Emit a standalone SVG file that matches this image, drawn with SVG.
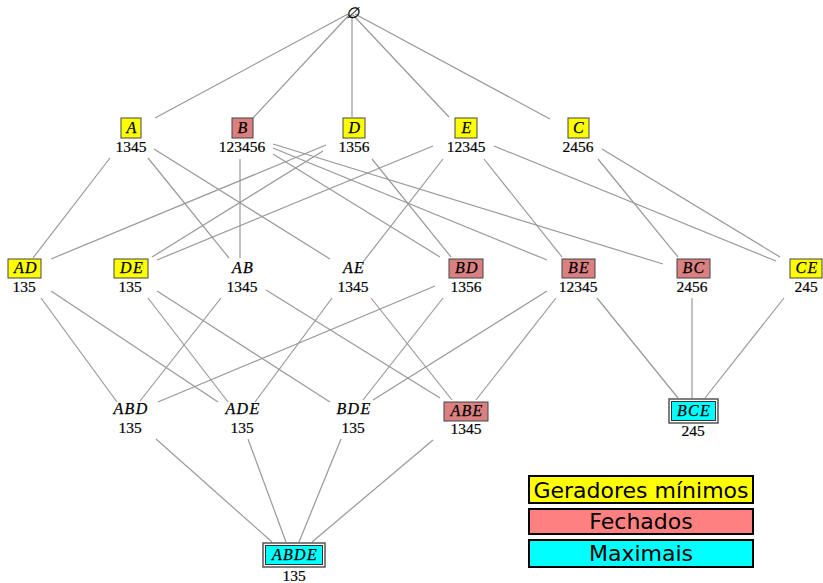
<svg xmlns="http://www.w3.org/2000/svg" width="823" height="583" viewBox="0 0 823 583">
<style>
.e line{stroke:#999;stroke-width:1.2}
.lb{font-family:"Liberation Serif",serif;font-style:italic;font-size:16px;letter-spacing:1.3px;text-anchor:middle;fill:#000;stroke:#000;stroke-width:0.25}
.nm{font-family:"Liberation Serif",serif;font-size:15.5px;text-anchor:middle;fill:#000;stroke:#000;stroke-width:0.2}
.gen{fill:#ffff00;stroke:#444;stroke-width:1}
.fec{fill:#db8080;stroke:#444;stroke-width:1}
.max{fill:#00ffff;stroke:#333;stroke-width:1}
.out{fill:#fff;stroke:#555;stroke-width:1.5}
.lg{font-family:"DejaVu Sans",sans-serif;font-size:22px;text-anchor:middle;fill:#000}
.lgb{stroke:#000;stroke-width:2}
</style>
<rect width="823" height="583" fill="#fff"/>
<g class="e" id="edges">
<line x1="348" y1="14" x2="155" y2="118"/>
<line x1="349" y1="15" x2="253" y2="118"/>
<line x1="352" y1="15" x2="352" y2="117"/>
<line x1="353" y1="15" x2="449" y2="117"/>
<line x1="355" y1="14" x2="550" y2="119"/>
<line x1="110" y1="158" x2="33" y2="258"/>
<line x1="148" y1="158" x2="229" y2="258"/>
<line x1="154" y1="149" x2="330" y2="259"/>
<line x1="240" y1="159" x2="240" y2="258"/>
<line x1="273" y1="154" x2="440" y2="257"/>
<line x1="273" y1="148" x2="547" y2="260"/>
<line x1="273" y1="144" x2="663" y2="264"/>
<line x1="326" y1="145" x2="51" y2="259"/>
<line x1="323" y1="151" x2="152" y2="257"/>
<line x1="372" y1="159" x2="451" y2="257"/>
<line x1="433" y1="146" x2="157" y2="260"/>
<line x1="443" y1="159" x2="363" y2="262"/>
<line x1="484" y1="159" x2="562" y2="257"/>
<line x1="494" y1="146" x2="776" y2="261"/>
<line x1="598" y1="159" x2="678" y2="257"/>
<line x1="602" y1="149" x2="780" y2="257"/>
<line x1="41" y1="298" x2="117" y2="402"/>
<line x1="51" y1="291" x2="218" y2="402"/>
<line x1="148" y1="298" x2="228" y2="402"/>
<line x1="157" y1="291" x2="330" y2="402"/>
<line x1="221" y1="298" x2="140" y2="401"/>
<line x1="266" y1="290" x2="440" y2="398"/>
<line x1="332" y1="298" x2="255" y2="402"/>
<line x1="371" y1="298" x2="452" y2="400"/>
<line x1="435" y1="286" x2="158" y2="402"/>
<line x1="443" y1="298" x2="363" y2="400"/>
<line x1="547" y1="291" x2="373" y2="400"/>
<line x1="556" y1="298" x2="476" y2="400"/>
<line x1="597" y1="298" x2="678" y2="398"/>
<line x1="692" y1="298" x2="692" y2="398"/>
<line x1="784" y1="298" x2="705" y2="398"/>
<line x1="156" y1="439" x2="272" y2="542"/>
<line x1="248" y1="439" x2="286" y2="542"/>
<line x1="341" y1="439" x2="299" y2="542"/>
<line x1="433" y1="440" x2="312" y2="542"/>
</g>
<g id="n-empty"><text class="lb" x="352" y="18" style="font-size:15px;letter-spacing:0">∅</text></g>
<g id="n-A"><rect class="gen" x="121" y="118" width="20" height="20"/><text class="lb" x="132" y="133">A</text><text class="nm" x="131" y="152">1345</text></g>
<g id="n-B"><rect class="fec" x="232" y="118" width="21" height="20"/><text class="lb" x="243" y="133">B</text><text class="nm" x="242" y="152">123456</text></g>
<g id="n-D"><rect class="gen" x="343" y="118" width="22" height="20"/><text class="lb" x="355" y="133">D</text><text class="nm" x="354" y="152">1356</text></g>
<g id="n-E"><rect class="gen" x="455" y="118" width="22" height="20"/><text class="lb" x="467" y="133">E</text><text class="nm" x="466" y="152">12345</text></g>
<g id="n-C"><rect class="gen" x="568" y="118" width="21" height="20"/><text class="lb" x="579" y="133">C</text><text class="nm" x="578" y="152">2456</text></g>
<g id="n-AD"><rect class="gen" x="8" y="259" width="33" height="19"/><text class="lb" x="26" y="273">AD</text><text class="nm" x="24" y="292">135</text></g>
<g id="n-DE"><rect class="gen" x="114" y="259" width="34" height="19"/><text class="lb" x="132" y="273">DE</text><text class="nm" x="130" y="292">135</text></g>
<g id="n-AB"><text class="lb" x="243" y="273">AB</text><text class="nm" x="242" y="292">1345</text></g>
<g id="n-AE"><text class="lb" x="354" y="273">AE</text><text class="nm" x="353" y="292">1345</text></g>
<g id="n-BD"><rect class="fec" x="449" y="259" width="34" height="19"/><text class="lb" x="467" y="273">BD</text><text class="nm" x="466" y="292">1356</text></g>
<g id="n-BE"><rect class="fec" x="562" y="259" width="33" height="19"/><text class="lb" x="579" y="273">BE</text><text class="nm" x="578" y="292">12345</text></g>
<g id="n-BC"><rect class="fec" x="677" y="259" width="33" height="19"/><text class="lb" x="694" y="273">BC</text><text class="nm" x="692" y="292">2456</text></g>
<g id="n-CE"><rect class="gen" x="790" y="259" width="32" height="19"/><text class="lb" x="807" y="273">CE</text><text class="nm" x="806" y="292">245</text></g>
<g id="n-ABD"><text class="lb" x="131" y="414">ABD</text><text class="nm" x="130" y="433">135</text></g>
<g id="n-ADE"><text class="lb" x="243" y="414">ADE</text><text class="nm" x="242" y="433">135</text></g>
<g id="n-BDE"><text class="lb" x="354" y="414">BDE</text><text class="nm" x="353" y="433">135</text></g>
<g id="n-ABE"><rect class="fec" x="444" y="402" width="44" height="19"/><text class="lb" x="467" y="416">ABE</text><text class="nm" x="466" y="434">1345</text></g>
<g id="n-BCE"><rect class="out" x="669" y="399" width="49" height="24"/><rect class="max" x="671.5" y="401.5" width="44" height="19"/><text class="lb" x="694" y="416">BCE</text><text class="nm" x="693" y="436">245</text></g>
<g id="n-ABDE"><rect class="out" x="263" y="543" width="62" height="24"/><rect class="max" x="265.5" y="545.5" width="57" height="19"/><text class="lb" x="295" y="560">ABDE</text><text class="nm" x="294" y="581">135</text></g>
<g id="legend">
<rect class="lgb" x="529" y="476" width="224" height="27" fill="#ffff00"/><text class="lg" x="641" y="498">Geradores mínimos</text>
<rect class="lgb" x="529" y="509" width="224" height="25" fill="#ff8080"/><text class="lg" x="641" y="529">Fechados</text>
<rect class="lgb" x="529" y="540" width="224" height="27" fill="#00ffff"/><text class="lg" x="641" y="561">Maximais</text>
</g>
</svg>
